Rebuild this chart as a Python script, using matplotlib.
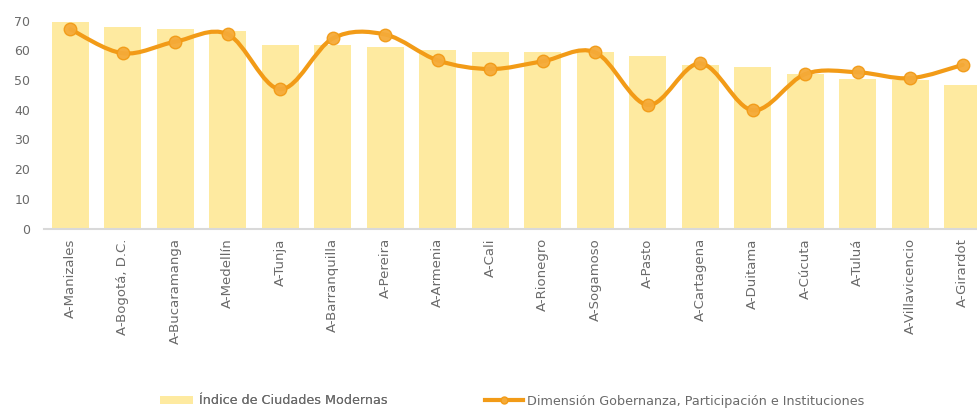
import matplotlib
matplotlib.use("Agg")
import matplotlib.pyplot as plt
from matplotlib.path import Path
from matplotlib.patches import PathPatch, Patch
from matplotlib.lines import Line2D
import numpy as np

categories = ["A-Manizales", "A-Bogotá, D.C.", "A-Bucaramanga", "A-Medellín", "A-Tunja",
              "A-Barranquilla", "A-Pereira", "A-Armenia", "A-Cali", "A-Rionegro",
              "A-Sogamoso", "A-Pasto", "A-Cartagena", "A-Duitama", "A-Cúcuta",
              "A-Tuluá", "A-Villavicencio", "A-Girardot"]
indice = [69.6, 67.8, 67.2, 66.6, 61.8, 61.8, 61.1, 60.0, 59.3, 59.3,
          59.3, 58.2, 55.2, 54.5, 52.1, 50.2, 49.9, 48.4]
gobernanza = [67.1, 59.0, 62.9, 65.4, 46.9, 64.0, 65.3, 56.6, 53.7, 56.3,
              59.3, 41.6, 55.6, 39.8, 52.0, 52.6, 50.6, 55.1]
yticks = [0, 10, 20, 30, 40, 50, 60, 70]
label_bar = "Índice de Ciudades Modernas"
label_line = "Dimensión Gobernanza, Participación e Instituciones"

BAR = "#FEEAA0"
LINE = "#F29B17"
MFILL = "#F5AA38"
GRAY = "#6A6A6A"

W, H = 977, 408
fig = plt.figure(figsize=(W / 100, H / 100), dpi=100)
ax = fig.add_axes([44.05 / W, (H - 228.5) / H, (989 - 44.05) / W, 207.9 / H])

x = np.arange(len(categories))
ax.bar(x, indice, width=0.70, color=BAR, zorder=1)

# smooth (Bezier) line through the data points, like a spreadsheet "smoothed line"
pts = np.column_stack([x, gobernanza]).astype(float)
n = len(pts)
verts = [pts[0]]
codes = [Path.MOVETO]
for i in range(n - 1):
    p0 = pts[i - 1] if i > 0 else pts[i]
    p1 = pts[i]
    p2 = pts[i + 1]
    p3 = pts[i + 2] if i + 2 < n else pts[i + 1]
    c1 = p1 + (p2 - p0) / 6.0
    c2 = p2 - (p3 - p1) / 6.0
    verts += [c1, c2, p2]
    codes += [Path.CURVE4] * 3
ax.add_patch(PathPatch(Path(verts, codes), facecolor="none", edgecolor=LINE,
                       lw=3.0, zorder=2, capstyle="round", joinstyle="round",
                       clip_on=False))
ax.plot(x, gobernanza, linestyle="none", marker="o", markersize=9,
        markerfacecolor=MFILL, markeredgecolor=LINE, markeredgewidth=1.0,
        alpha=0.95, zorder=3, clip_on=False)

ax.set_xlim(-0.5, len(categories) - 0.5)
ax.set_ylim(0, 70)
ax.set_yticks(yticks)
ax.set_xticks(x)
ax.set_xticklabels(categories, rotation=90, va="top", ha="center")
ax.tick_params(axis="x", length=0, pad=7, labelsize=9.5, labelcolor=GRAY)
ax.tick_params(axis="y", length=0, pad=10, labelsize=9, labelcolor=GRAY)
for s in ["top", "right", "left"]:
    ax.spines[s].set_visible(False)
ax.spines["bottom"].set_color("#D9D9D9")
ax.spines["bottom"].set_linewidth(1.5)

# legend entries
leg1 = fig.legend(handles=[Patch(facecolor=BAR, edgecolor="none")], labels=[label_bar],
                  loc="center left", bbox_to_anchor=(160 / W, (H - 401) / H),
                  frameon=False, borderpad=0, borderaxespad=0, handlelength=2.6,
                  handleheight=0.5, handletextpad=0.45, fontsize=9.2, labelcolor=GRAY)
fig.add_artist(leg1)
fig.legend(handles=[Line2D([0], [0], color=LINE, lw=3, marker="o", markersize=5,
                           markerfacecolor=MFILL, markeredgecolor=LINE)],
           labels=[label_line], loc="center left",
           bbox_to_anchor=(485 / W, (H - 401) / H), frameon=False, borderpad=0,
           borderaxespad=0, handlelength=3.0, handletextpad=0.25, fontsize=9.2,
           labelcolor=GRAY)

fig.savefig("out.png", dpi=100)
